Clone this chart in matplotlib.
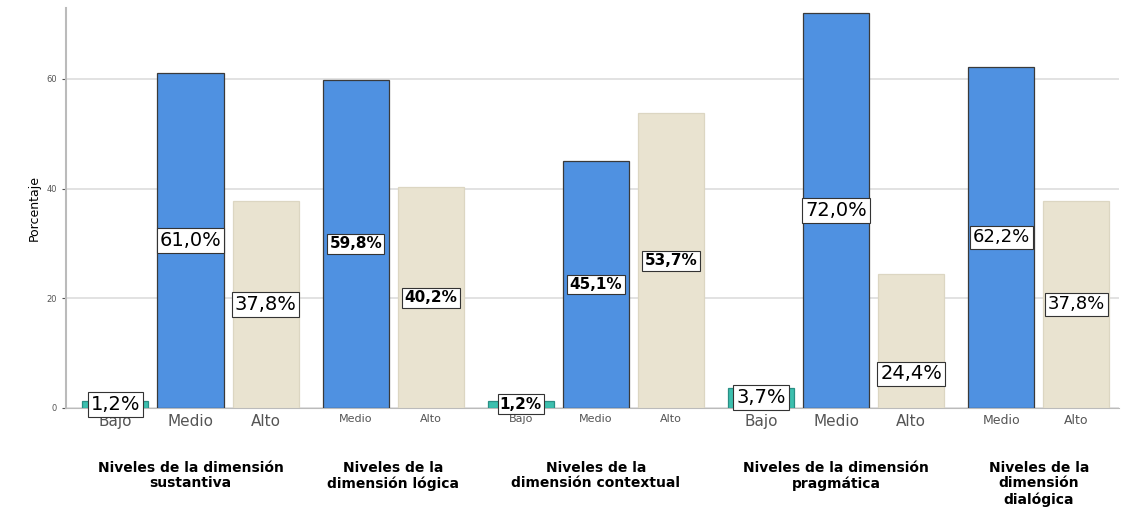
import matplotlib
matplotlib.use("Agg")
import matplotlib.pyplot as plt

# data
groups = [
    "Niveles de la dimensión\nsustantiva",
    "Niveles de la\ndimensión lógica",
    "Niveles de la\ndimensión contextual",
    "Niveles de la dimensión\npragmática",
    "Niveles de la\ndimensión\ndialógica",
]
levels = [
    ["Bajo", "Medio", "Alto"],
    ["Medio", "Alto"],
    ["Bajo", "Medio", "Alto"],
    ["Bajo", "Medio", "Alto"],
    ["Medio", "Alto"],
]
values = [
    [1.2, 61.0, 37.8],
    [59.8, 40.2],
    [1.2, 45.1, 53.7],
    [3.7, 72.0, 24.4],
    [62.2, 37.8],
]

colors = {"Bajo": "#3cbfae", "Medio": "#4f91e1", "Alto": "#e9e3d0"}
edges = {"Bajo": "#2a8f85", "Medio": "#3a3a3a", "Alto": "#dcd6c2"}
label_size = [14, 11, 11, 14, 13]
tick_size = [11, 8, 8, 11, 9]

fig = plt.figure(figsize=(11.23, 5.2), dpi=100)
ax = fig.add_axes([0.059, 0.2154, 0.937, 0.77])

width = 0.88
gap = 0.2
x = 0.0
ticks, ticklabels, tsizes = [], [], []
for gi, (labs, vals) in enumerate(zip(levels, values)):
    xs = []
    for lab, v in zip(labs, vals):
        ax.bar(x, v, width=width, color=colors[lab], edgecolor=edges[lab],
               linewidth=0.9, zorder=3)
        ly = v / 2 if v > 3 else 0.7
        if lab == "Alto" and v < 30:
            ly = 6.2
        ax.text(x, ly, ("%.1f%%" % v).replace(".", ","), ha="center",
                va="center", fontsize=label_size[gi],
                fontweight="bold" if label_size[gi] < 12 else "normal",
                zorder=5,
                bbox=dict(boxstyle="square,pad=0.15", fc="white",
                          ec="#333333", lw=0.8))
        ticks.append(x)
        ticklabels.append(lab)
        tsizes.append(tick_size[gi])
        xs.append(x)
        x += 1.0
    ax.text((xs[0] + xs[-1]) / 2, -9.6, groups[gi], ha="center", va="top",
            fontsize=10, fontweight="bold", linespacing=1.15)
    x += gap

ax.set_xlim(-0.655, x - gap - 1 + 0.56)
ax.set_ylim(0, 73)
ax.set_xticks(ticks)
ax.set_xticklabels(ticklabels, color="#555555")
for t, s in zip(ax.get_xticklabels(), tsizes):
    t.set_fontsize(s)
ax.tick_params(axis="x", length=0, pad=4)
ax.set_yticks([0, 20, 40, 60])
ax.tick_params(axis="y", labelsize=6, colors="#555555", length=3)
ax.set_ylabel("Porcentaje", fontsize=9)
ax.grid(axis="y", color="#dddddd", linewidth=1.2, zorder=0)
for s in ["top", "right"]:
    ax.spines[s].set_visible(False)
ax.spines["left"].set_color("#bbbbbb")
ax.spines["bottom"].set_color("#bbbbbb")
ax.spines["left"].set_linewidth(1.5)

fig.savefig("out.png", dpi=100)
